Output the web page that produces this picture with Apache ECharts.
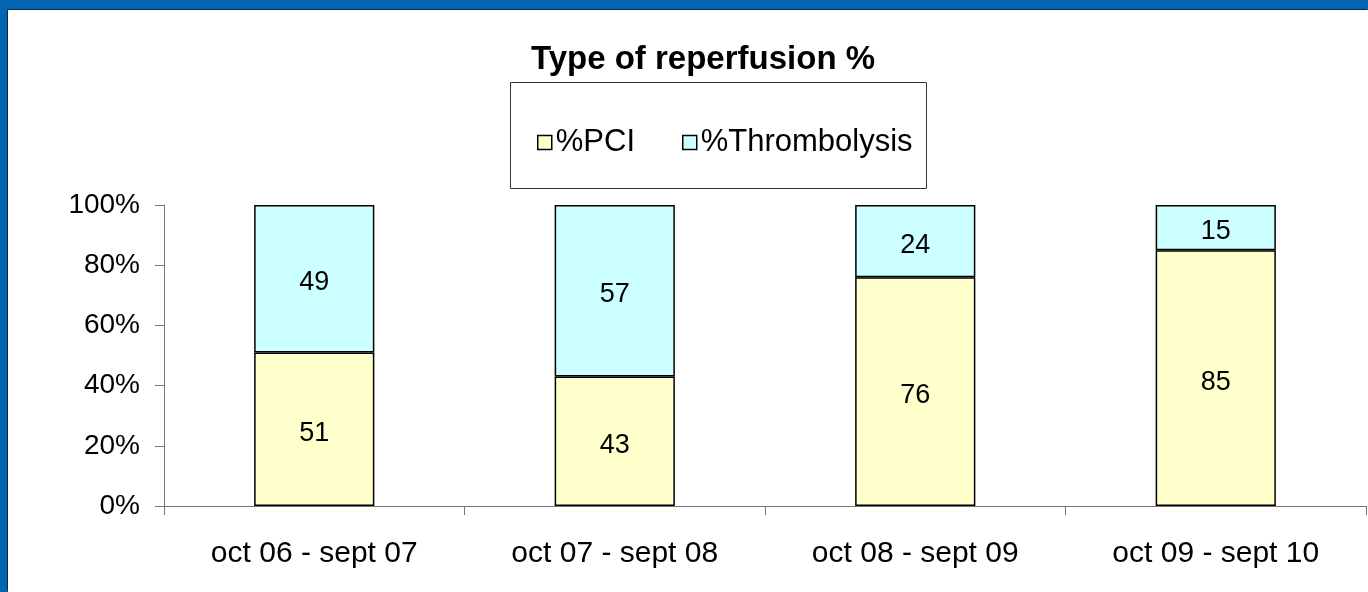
<!DOCTYPE html>
<html>
<head>
<meta charset="utf-8">
<script src="https://cdn.jsdelivr.net/npm/echarts@6/dist/echarts.min.js"></script>
<style>
  html, body { margin: 0; padding: 0; background: #0066b3; width: 1368px; height: 592px; overflow: hidden; }
  #main { position: absolute; left: 8px; top: 10px; width: 1360px; height: 582px; background: #fff; box-shadow: -1px -1px 0 #15253d; }
</style>
</head>
<body>
<div id="main"></div>
<script>
// periods on the x axis
const periods = ['oct 06 - sept 07', 'oct 07 - sept 08', 'oct 08 - sept 09', 'oct 09 - sept 10'];
// share of each reperfusion type, in %
const pci = [51, 43, 76, 85];
const thrombolysis = [49, 57, 24, 15];

const font = 'Liberation Sans, Arial, sans-serif';
const chart = echarts.init(document.getElementById('main'));

const option = {
  animation: false,
  title: {
    text: 'Type of reperfusion %',
    left: 690,
    top: 28,
    textAlign: 'center',
    textStyle: { fontFamily: font, fontSize: 33, fontWeight: 'bold', color: '#000' }
  },
  // the legend frame
  graphic: [{
    type: 'rect',
    shape: { x: 502.5, y: 72.5, width: 416, height: 106 },
    style: { fill: '#fff', stroke: '#333', lineWidth: 1 },
    z: 0
  }],
  legend: {
    left: 524,
    top: 112,
    itemWidth: 14,
    itemHeight: 14,
    itemGap: 47,
    icon: 'rect',
    textStyle: { fontFamily: font, fontSize: 31, color: '#000', padding: [0, 0, 0, -1] },
    itemStyle: { borderColor: '#000', borderWidth: 1.5 },
    data: ['%PCI', '%Thrombolysis']
  },
  grid: { left: 156, right: 2, top: 195, bottom: 86 },
  xAxis: {
    type: 'category',
    data: periods,
    axisLine: { lineStyle: { color: '#777', width: 1 } },
    axisTick: { show: true, length: 9, lineStyle: { color: '#777' } },
    axisLabel: { fontFamily: font, fontSize: 30, color: '#000', margin: 33 }
  },
  yAxis: {
    type: 'value',
    min: 0,
    max: 100,
    interval: 20,
    axisLine: { show: true, lineStyle: { color: '#777', width: 1 } },
    axisTick: { show: true, length: 9, lineStyle: { color: '#777' } },
    splitLine: { show: false },
    axisLabel: { formatter: '{value}%', fontFamily: font, fontSize: 28, color: '#000', margin: 24 }
  },
  series: [
    {
      name: '%PCI',
      type: 'bar',
      stack: 'total',
      barWidth: '40%',
      data: pci,
      itemStyle: { color: '#ffffcc', borderColor: '#000', borderWidth: 1.5 },
      label: { show: true, position: 'inside', offset: [0, 4], fontFamily: font, fontSize: 27, color: '#000' }
    },
    {
      name: '%Thrombolysis',
      type: 'bar',
      stack: 'total',
      barWidth: '40%',
      data: thrombolysis,
      itemStyle: { color: '#ccffff', borderColor: '#000', borderWidth: 1.5 },
      label: { show: true, position: 'inside', offset: [0, 4], fontFamily: font, fontSize: 27, color: '#000' }
    }
  ]
};

chart.setOption(option);
</script>
</body>
</html>
